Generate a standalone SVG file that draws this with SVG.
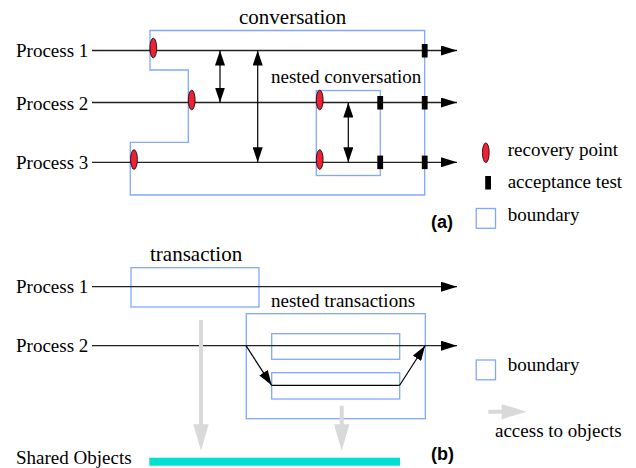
<svg xmlns="http://www.w3.org/2000/svg" width="636" height="468" viewBox="0 0 636 468" font-family="'Liberation Serif', 'Times New Roman', serif" font-size="19">
<defs>
<style>
text{font-family:'Liberation Serif','Times New Roman',serif;font-size:19px;fill:#000}
text.big{font-size:21px}
text.lbl{font-family:'Liberation Sans',Arial,sans-serif;font-weight:bold;font-size:18px}
.proc{stroke:#222;stroke-width:1.3;fill:none}
.bnd{stroke:#80a8ff;stroke-width:1.3;fill:none}
.rp{fill:#ee2233;stroke:#000;stroke-width:0.8}
.at{fill:#000}
.thin{stroke:#000;stroke-width:1.2;fill:none}
.gray{fill:#d9d9d9}
</style>
<marker id="ah" markerUnits="userSpaceOnUse" markerWidth="16" markerHeight="10" refX="16" refY="5" orient="auto-start-reverse">
<path d="M0,0 L16,5 L0,10 Z" fill="#000"/>
</marker>
<marker id="ahs" markerUnits="userSpaceOnUse" markerWidth="15" markerHeight="10" refX="15" refY="5" orient="auto-start-reverse">
<path d="M0,0 L15,5 L0,10 Z" fill="#000"/>
</marker>
</defs>

<!-- (a) conversations -->
<g id="conversation-boundary">
<path class="bnd" d="M150,30.5 H424.7 V195 H130.3 V142.3 H188.3 V70 H150 Z"/>
<text class="big" x="239" y="23.5">conversation</text>
</g>
<g id="nested-conversation">
<rect class="bnd" x="316.3" y="90.5" width="64" height="85"/>
<text x="271" y="82.5">nested conversation</text>
</g>

<g id="process1-a">
<text x="16" y="57">Process 1</text>
<line class="proc" x1="92" y1="50.5" x2="457" y2="50.5" marker-end="url(#ah)"/>
</g>
<g id="process2-a">
<text x="16" y="109.5">Process 2</text>
<line class="proc" x1="92" y1="102.5" x2="457" y2="102.5" marker-end="url(#ah)"/>
</g>
<g id="process3-a">
<text x="16" y="169.3">Process 3</text>
<line class="proc" x1="92" y1="162.3" x2="457" y2="162.3" marker-end="url(#ah)"/>
</g>

<g id="connectors-a">
<line class="thin" x1="220" y1="50.5" x2="220" y2="102.5" marker-start="url(#ahs)" marker-end="url(#ahs)"/>
<line class="thin" x1="257.7" y1="50.5" x2="257.7" y2="162.3" marker-start="url(#ahs)" marker-end="url(#ahs)"/>
<line class="thin" x1="348.3" y1="102.5" x2="348.3" y2="162.3" marker-start="url(#ahs)" marker-end="url(#ahs)"/>
</g>

<g id="recovery-points">
<ellipse class="rp" cx="153.3" cy="48" rx="3.4" ry="9.8"/>
<ellipse class="rp" cx="191.7" cy="100" rx="3.4" ry="9.8"/>
<ellipse class="rp" cx="134" cy="159.5" rx="3.4" ry="9.8"/>
<ellipse class="rp" cx="319.7" cy="100" rx="3.4" ry="9.8"/>
<ellipse class="rp" cx="319.7" cy="159.5" rx="3.4" ry="9.8"/>
</g>
<g id="acceptance-tests">
<rect class="at" x="421.8" y="44" width="5.8" height="13.5"/>
<rect class="at" x="421.8" y="96" width="5.8" height="13.5"/>
<rect class="at" x="421.8" y="155.6" width="5.8" height="13.5"/>
<rect class="at" x="377.3" y="96" width="5.8" height="13.5"/>
<rect class="at" x="377.3" y="155.6" width="5.8" height="13.5"/>
</g>

<g id="legend-a">
<ellipse class="rp" cx="485.8" cy="152.7" rx="3.4" ry="9.8"/>
<text x="507.7" y="156">recovery point</text>
<rect class="at" x="485.2" y="176" width="5.8" height="13.5"/>
<text x="507.7" y="187.7">acceptance test</text>
<rect class="bnd" x="476.2" y="208.5" width="19.3" height="19.8"/>
<text x="507.7" y="221">boundary</text>
<text class="lbl" x="431" y="228">(a)</text>
</g>

<!-- (b) transactions -->
<g id="transaction">
<rect class="bnd" x="131" y="267.7" width="128" height="39.3"/>
<text class="big" x="150" y="260.5">transaction</text>
</g>
<g id="nested-transactions">
<rect class="bnd" x="246.3" y="313.7" width="179" height="105"/>
<rect class="bnd" x="271.7" y="333.7" width="128" height="25.6"/>
<rect class="bnd" x="271.7" y="372.7" width="128" height="26.3"/>
<text x="271" y="306.5">nested transactions</text>
</g>
<g id="process1-b">
<text x="16" y="292.5">Process 1</text>
<line class="proc" x1="92" y1="286.7" x2="457" y2="286.7" marker-end="url(#ah)"/>
</g>
<g id="process2-b">
<text x="16" y="352">Process 2</text>
<line class="proc" x1="92" y1="345.7" x2="457" y2="345.7" marker-end="url(#ah)"/>
</g>
<g id="connectors-b">
<line class="thin" x1="246" y1="345.7" x2="271.7" y2="385.3" marker-end="url(#ahs)"/>
<line class="thin" x1="271.7" y1="385.3" x2="399.7" y2="385.3"/>
<line class="thin" x1="399.7" y1="385.3" x2="425" y2="345.7" marker-end="url(#ahs)"/>
<path class="gray" d="M199,320 H203 V424.3 H208.7 L201,450.7 L193.3,424.3 H199 Z"/>
<path class="gray" d="M339.7,405.7 H343.7 V424.3 H349.4 L341.7,450.7 L334,424.3 H339.7 Z"/>
</g>
<g id="shared-objects">
<text x="16" y="464">Shared Objects</text>
<rect x="149.3" y="457.7" width="250.7" height="8" fill="#00e0d0"/>
</g>
<g id="legend-b">
<rect class="bnd" x="476.2" y="360" width="19.3" height="19.8"/>
<text x="507.7" y="370.7">boundary</text>
<path class="gray" d="M488.3,409.7 H501.7 V404.2 L526.7,411.7 L501.7,419.2 V413.7 H488.3 Z"/>
<text x="495" y="436.5">access to objects</text>
<text class="lbl" x="431" y="460">(b)</text>
</g>
</svg>
